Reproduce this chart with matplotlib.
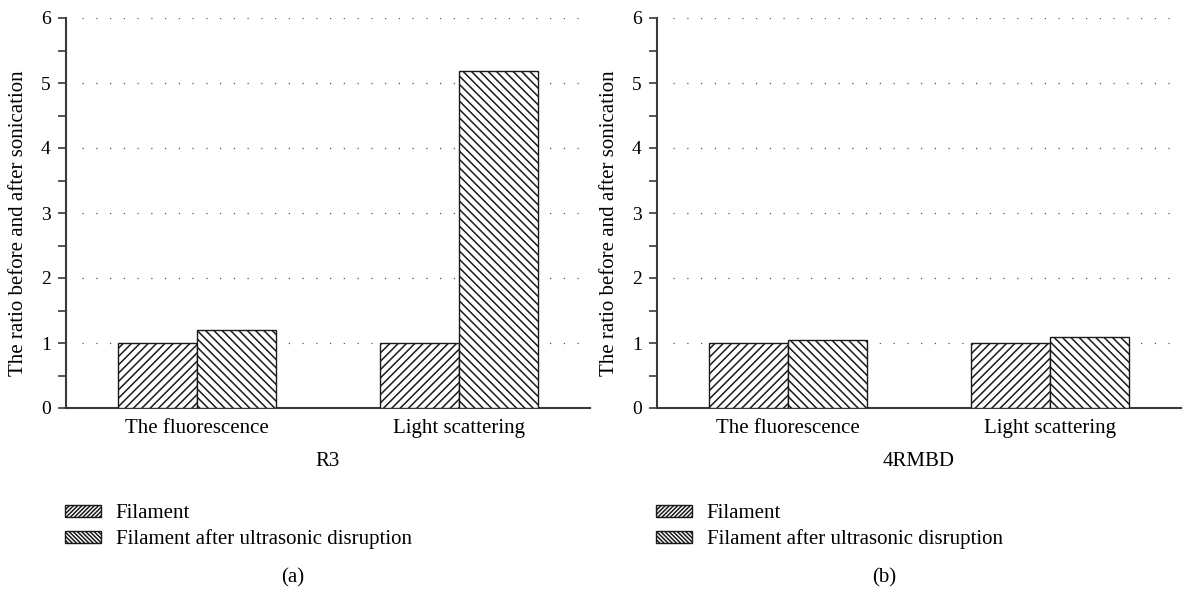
import matplotlib.pyplot as plt
from matplotlib.patches import Patch
import numpy as np

plt.rcParams['font.family'] = ['Liberation Serif', 'DejaVu Serif']
plt.rcParams['hatch.linewidth'] = 1.1

# values
categories = ['The fluorescence', 'Light scattering']
r3_filament = [1.0, 1.0]
r3_sonicated = [1.2, 5.19]
rmbd_filament = [1.0, 1.0]
rmbd_sonicated = [1.05, 1.1]
series_names = ['Filament', 'Filament after ultrasonic disruption']
panels = [('R3', '(a)', r3_filament, r3_sonicated),
          ('4RMBD', '(b)', rmbd_filament, rmbd_sonicated)]

fig = plt.figure(figsize=(11.86, 5.92), dpi=100)
W, H = 1186, 592
axis_col = '#3a3a3a'
edge = '#1a1a1a'
fs = 15
x = np.arange(len(categories))
w = 0.3

for i, (name, tag, before, after) in enumerate(panels):
    x0 = 66 if i == 0 else 657
    ax = fig.add_axes([x0 / W, 1 - 408 / H, 524 / W, 390 / H])
    ax.bar(x - w / 2, before, w, color='white', edgecolor=edge,
           hatch='////', linewidth=1.0, zorder=3)
    ax.bar(x + w / 2, after, w, color='white', edgecolor=edge,
           hatch='\\\\\\\\', linewidth=1.0, zorder=3)
    ax.set_xlim(-0.5, 1.5)
    ax.set_ylim(0, 6)
    ax.set_yticks(range(7))
    ax.set_yticks(np.arange(0.5, 6, 1), minor=True)
    # dotted guide lines at each whole unit
    for y in range(1, 7):
        ax.plot([-0.44, 1.48], [y, y], color='#555555', lw=0.9,
                ls=(0, (1, 10)), zorder=1)
    ax.set_xticks(x)
    ax.set_xticklabels(categories, fontsize=fs)
    ax.tick_params(axis='x', length=0, pad=8)
    ax.tick_params(axis='y', which='both', direction='out', length=6,
                   width=1.2, color=axis_col, labelsize=14, pad=5)
    for s in ['top', 'right']:
        ax.spines[s].set_visible(False)
    for s in ['left', 'bottom']:
        ax.spines[s].set_color(axis_col)
        ax.spines[s].set_linewidth(1.5)
    ax.set_ylabel('The ratio before and after sonication', fontsize=fs)
    ax.yaxis.set_label_coords(-38 / 524, 185 / 390)
    ax.set_xlabel(name, fontsize=fs, labelpad=10)

    handles = [Patch(facecolor='white', edgecolor=edge, hatch='/' * 8,
                     linewidth=1.0, label=series_names[0]),
               Patch(facecolor='white', edgecolor=edge, hatch='\\' * 8,
                     linewidth=1.0, label=series_names[1])]
    ax.legend(handles=handles, loc='upper left',
              bbox_to_anchor=((x0 - 1) / W, 1 - 504 / H),
              bbox_transform=fig.transFigure, frameon=False, fontsize=fs,
              handlelength=1.75, handleheight=0.5, handletextpad=0.68,
              labelspacing=0.3, borderpad=0, borderaxespad=0)
    fig.text((x0 + 227) / W, 1 - 578 / H, tag, fontsize=fs,
             ha='center', va='center')

fig.savefig('out.png', dpi=100)
